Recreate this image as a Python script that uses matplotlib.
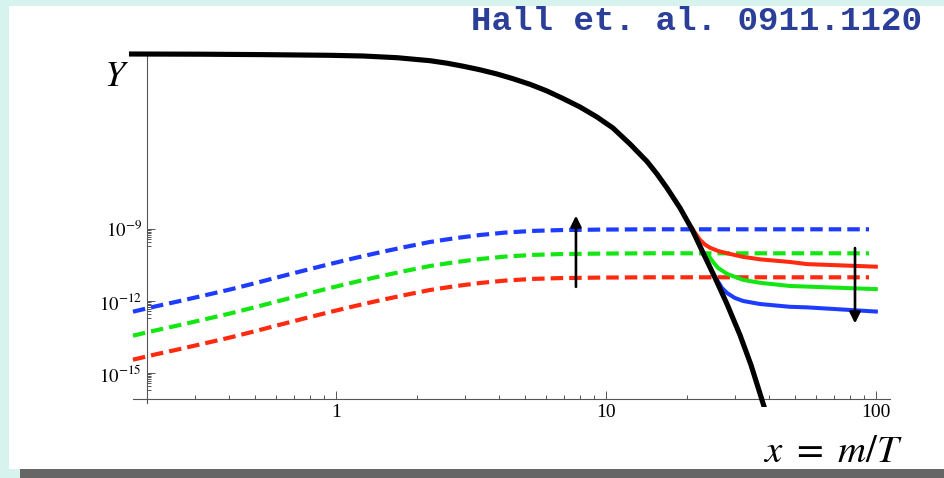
import matplotlib
matplotlib.use("Agg")
import matplotlib.pyplot as plt
from matplotlib.patches import Rectangle
from matplotlib.ticker import FixedLocator, NullFormatter

plt.rcParams['mathtext.fontset'] = 'stix'
plt.rcParams['font.family'] = ['Liberation Serif', 'DejaVu Serif']

# ---------------- data ----------------
# equilibrium abundance (black)
x_black = [0.1711, 0.3135, 0.5231, 0.9501, 1.259, 1.683, 2.229, 2.577, 2.954, 3.415,
           3.948, 4.525, 5.230, 6.046, 6.929, 8.009, 9.262, 10.61, 12.27, 14.19,
           15.45, 16.82, 18.80, 20.82, 22.93, 25.33, 28.06, 31.35, 34.44, 37.83, 41.19]
y_black = [2.014e-2, 1.977e-2, 1.901e-2, 1.778e-2, 1.663e-2, 1.413e-2, 1.059e-2,
           8.34e-3, 6.25e-3, 4.43e-3, 2.96e-3, 1.88e-3, 1.10e-3, 5.79e-4, 2.82e-4,
           1.25e-4, 4.77e-5, 1.66e-5, 3.58e-6, 6.68e-7, 2.01e-7, 5.26e-8, 7.72e-9,
           1.0e-9, 1.0e-10, 9.62e-12, 7.72e-13, 3.94e-14, 2.22e-15, 7.71e-17, 3.58e-18]

# dashed curves
x_dash = [0.1770, 0.2136, 0.2644, 0.3272, 0.4049, 0.5012, 0.6203, 0.7677, 0.9501,
          1.176, 1.455, 1.801, 2.229, 2.759, 3.415, 4.226, 5.365, 6.755, 9.501,
          14.55, 94.2]
y_dash_blue = [3.69e-13, 6.07e-13, 1.03e-12, 1.78e-12, 3.10e-12, 5.68e-12, 1.06e-11,
               1.96e-11, 3.58e-11, 6.37e-11, 1.10e-10, 1.83e-10, 2.96e-10, 4.26e-10,
               5.79e-10, 7.29e-10, 8.58e-10, 9.27e-10, 9.72e-10, 1.0e-9, 1.0e-9]
y_dash_green = [3.69e-14, 6.07e-14, 1.03e-13, 1.78e-13, 3.10e-13, 5.68e-13, 1.06e-12,
                1.96e-12, 3.58e-12, 6.37e-12, 1.10e-11, 1.83e-11, 2.96e-11, 4.26e-11,
                5.79e-11, 7.29e-11, 8.58e-11, 9.27e-11, 9.72e-11, 1.0e-10, 1.0e-10]
y_dash_red = [3.69e-15, 6.07e-15, 1.03e-14, 1.78e-14, 3.10e-14, 5.68e-14, 1.06e-13,
              1.96e-13, 3.58e-13, 6.37e-13, 1.10e-12, 1.83e-12, 2.96e-12, 4.26e-12,
              5.79e-12, 7.29e-12, 8.58e-12, 9.27e-12, 9.72e-12, 1.0e-11, 1.0e-11]

# solid freeze-out curves
x_red = [18.80, 20.1, 21.4, 22.3, 23.26, 24.3, 26.0, 28.1, 32.2, 37.2, 48.0, 55.4, 101.6]
y_red = [7.72e-9, 2.0e-9, 7.0e-10, 3.6e-10, 2.32e-10, 1.7e-10, 1.25e-10, 1.0e-10,
         7.1e-11, 5.6e-11, 4.35e-11, 3.55e-11, 2.75e-11]
x_green = [20.82, 22.93, 23.9, 24.9, 26.0, 28.1, 32.2, 37.2, 48.0, 55.4, 101.6]
y_green = [1e-9, 1e-10, 8.5e-11, 4.4e-11, 2.45e-11, 1.38e-11, 7.8e-12, 5.9e-12,
           4.35e-12, 4.1e-12, 3.2e-12]
x_blue = [22.93, 25.33, 26.0, 26.9, 28.1, 30.0, 32.2, 37.2, 48.0, 55.4, 101.6]
y_blue = [1e-10, 9.62e-12, 6.6e-12, 3.55e-12, 2.2e-12, 1.38e-12, 1.03e-12, 7.7e-13,
          5.9e-13, 5.6e-13, 3.7e-13]

# arrows (x, y_from, y_to)
arrow_up = (7.74, 4.0e-12, 3.7e-9)
arrow_down = (83.6, 1.66e-10, 1.2e-13)

x_ticks = [1, 10, 100]
x_ticklabels = ['1', '10', '100']
y_ticks = [1e-9, 1e-12, 1e-15]
y_ticklabels = [r'$10^{-9}$', r'$10^{-12}$', r'$10^{-15}$']

title = 'Hall et. al. 0911.1120'

# ---------------- figure ----------------
W, H = 945, 478
fig = plt.figure(figsize=(W / 100, H / 100), dpi=100)
fig.patch.set_facecolor('#d7f3ed')
fig.add_artist(Rectangle((9 / W, (H - 469) / H), (W - 9) / W, (469 - 6) / H,
                         transform=fig.transFigure, facecolor='white',
                         edgecolor='none', zorder=-10))
fig.add_artist(Rectangle((20 / W, 0), (W - 20) / W, 9 / H,
                         transform=fig.transFigure, facecolor='#666666',
                         edgecolor='none', zorder=-10))

left_px, right_px, top_px, bot_px = 125, 900, 45, 407
ax = fig.add_axes([left_px / W, (H - bot_px) / H, (right_px - left_px) / W,
                   (bot_px - top_px) / H])
ax.patch.set_alpha(0)
ax.set_xscale('log')
ax.set_yscale('log')
ax.set_xlim(10 ** ((left_px - 336) / 270), 10 ** ((right_px - 336) / 270))
ax.set_ylim(10 ** (-9 - (bot_px - 229.3) / 24), 10 ** (-9 + (229.3 - top_px) / 24))

blue, green, red = '#1e3cff', '#14e614', '#ff2a10'
for yy, c in [(y_dash_blue, blue), (y_dash_green, green), (y_dash_red, red)]:
    ln, = ax.plot(x_dash, yy, color=c, lw=3.0, zorder=2)
    ln.set_dashes((3.0, 1.45))

for xx, yy, c in [(x_red, y_red, red), (x_green, y_green, green), (x_blue, y_blue, blue)]:
    ax.plot(xx, yy, color=c, lw=2.9, zorder=3, solid_capstyle='butt',
            solid_joinstyle='round')

ax.plot(x_black, y_black, color='black', lw=3.7, zorder=4, solid_capstyle='butt',
        solid_joinstyle='round')

for xa, y0, y1 in [arrow_up, arrow_down]:
    ax.annotate('', xy=(xa, y1), xytext=(xa, y0),
                arrowprops=dict(arrowstyle='-|>', lw=1.9, color='black',
                                mutation_scale=16, shrinkA=0, shrinkB=0),
                zorder=5)

for s in ['top', 'right']:
    ax.spines[s].set_visible(False)
ax.spines['left'].set_position(('data', 0.2))
ax.spines['left'].set_bounds(10 ** -16.25, 10 ** -1.74)
ax.spines['bottom'].set_position(('data', 10 ** -16.05))
ax.spines['bottom'].set_bounds(0.177, 113)
for s in ['left', 'bottom']:
    ax.spines[s].set_color('#555555')
    ax.spines[s].set_linewidth(0.8)

ax.set_xticks(x_ticks, labels=x_ticklabels)
ax.set_yticks(y_ticks, labels=y_ticklabels)
xminor = [k * 10 ** m for m in (-1, 0, 1) for k in range(2, 10) if 0.25 < k * 10 ** m < 100]
yminor = [k * 10.0 ** (n - 1) for n in (-9, -12, -15) for k in range(2, 10)]
ax.xaxis.set_minor_locator(FixedLocator(xminor))
ax.yaxis.set_minor_locator(FixedLocator(yminor))
ax.xaxis.set_minor_formatter(NullFormatter())
ax.yaxis.set_minor_formatter(NullFormatter())
ax.tick_params(which='both', direction='in', color='#555555', width=0.7, pad=4)
ax.tick_params(axis='x', labelsize=14)
ax.tick_params(axis='y', labelsize=13.5)
ax.tick_params(which='major', length=6)
ax.tick_params(which='minor', length=3)

fig.text(116 / W, 1 - 77 / H, r'$Y$', fontsize=26, ha='center', va='center')
fig.text(833 / W, 1 - 452 / H, r'$x\ =\ m/T$', fontsize=28, ha='center', va='center')
fig.text(922 / W, 1 - 30 / H, title, ha='right', va='baseline',
         family='Liberation Mono', weight='bold', fontsize=24.6, color='#2b3f99')

fig.savefig('out.png', dpi=100)
